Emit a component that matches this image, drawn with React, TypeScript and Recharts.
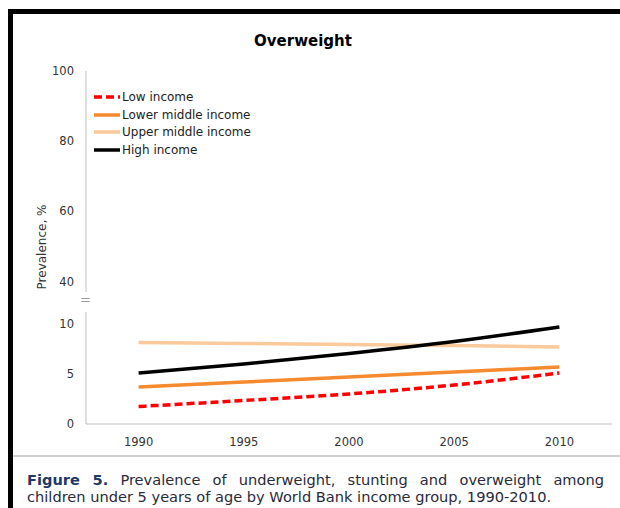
import React from 'react';
import { LineChart, Line, XAxis, YAxis, Legend } from 'recharts';

const years = ['1990', '1995', '2000', '2005', '2010'];
const lowIncome = [1.75, 2.35, 3.0, 3.9, 5.1];
const lowerMiddleIncome = [3.7, 4.2, 4.7, 5.2, 5.7];
const upperMiddleIncome = [8.15, 8.05, 7.95, 7.85, 7.7];
const highIncome = [5.1, 6.0, 7.05, 8.25, 9.7];

const topTicks = [40, 60, 80, 100];
const bottomTicks = [0, 5, 10];

const series = [
  { key: 'low', name: 'Low income', color: '#FF0000', dash: '8 4' },
  { key: 'lowerMiddle', name: 'Lower middle income', color: '#F58A2E', dash: undefined },
  { key: 'upperMiddle', name: 'Upper middle income', color: '#FAC99C', dash: undefined },
  { key: 'high', name: 'High income', color: '#000000', dash: undefined },
];

const data = years.map((year, i) => ({
  year,
  low: lowIncome[i],
  lowerMiddle: lowerMiddleIncome[i],
  upperMiddle: upperMiddleIncome[i],
  high: highIncome[i],
}));

const FONT = '"DejaVu Sans", sans-serif';
const axisColor = '#BFBFBF';
const tickStyle = { fill: '#333', fontSize: 11.5, fontFamily: FONT };

const renderLegend = (props: any) => {
  const items = [...(props.payload || [])].sort(
    (a: any, b: any) =>
      series.findIndex(s => s.key === a.dataKey) - series.findIndex(s => s.key === b.dataKey)
  );
  return (
    <div style={{ fontFamily: FONT, fontSize: 12, color: '#222' }}>
      {items.map((entry: any) => {
        const s = series.find(x => x.key === entry.dataKey);
        return (
          <div key={entry.dataKey} style={{ display: 'flex', alignItems: 'center', height: 17.7 }}>
            <svg width={28} height={6} style={{ marginRight: 1 }}>
              <line x1={1} y1={3} x2={27} y2={3} stroke={entry.color} strokeWidth={3.5} strokeDasharray={s?.dash} />
            </svg>
            <span>{entry.value}</span>
          </div>
        );
      })}
    </div>
  );
};

const lines = (withLegend: boolean) =>
  series.map(s => (
    <Line
      key={s.key}
      type="monotone"
      dataKey={s.key}
      name={s.name}
      stroke={s.color}
      strokeWidth={3.5}
      strokeDasharray={s.dash}
      dot={false}
      activeDot={false}
      isAnimationActive={false}
      legendType={withLegend ? 'line' : 'none'}
    />
  ));

const App: React.FC = () => {
  return (
    <div style={{ position: 'absolute', left: 0, top: 0, width: 620, height: 508, background: '#fff', overflow: 'hidden' }}>
      {/* frame */}
      <div style={{ position: 'absolute', left: 8, top: 9, width: 612, height: 499, borderLeft: '5px solid #000', borderTop: '5px solid #000' }} />
      <div style={{ position: 'absolute', left: 13, top: 455, width: 607, height: 2, background: '#D0D0D0' }} />

      <div style={{ position: 'absolute', left: 0, top: 32, width: 606, textAlign: 'center', fontFamily: FONT, fontWeight: 'bold', fontSize: 15, color: '#000' }}>
        Overweight
      </div>

      {/* upper panel 37-100 */}
      <div style={{ position: 'absolute', left: 0, top: 0 }}>
        <LineChart width={620} height={300} data={data} margin={{ top: 71, right: 8, bottom: 8, left: 46 }}>
          <XAxis dataKey="year" hide scale="band" />
          <YAxis
            domain={[37, 100]}
            ticks={topTicks}
            allowDataOverflow
            width={40}
            axisLine={{ stroke: axisColor }}
            tickLine={false}
            tickMargin={6}
            tick={tickStyle}
          />
          {lines(true)}
          <Legend
            layout="vertical"
            align="center"
            verticalAlign="middle"
            content={renderLegend}
            wrapperStyle={{ top: 88, left: 93, width: 220 }}
          />
        </LineChart>
      </div>

      {/* lower panel 0-11.2 */}
      <div style={{ position: 'absolute', left: 0, top: 300 }}>
        <LineChart width={620} height={160} data={data} margin={{ top: 12, right: 8, bottom: 6, left: 46 }}>
          <XAxis
            dataKey="year"
            scale="band"
            height={30}
            axisLine={{ stroke: axisColor }}
            tickLine={false}
            tickMargin={8}
            tick={tickStyle}
          />
          <YAxis
            domain={[0, 11.2]}
            ticks={bottomTicks}
            width={40}
            axisLine={{ stroke: axisColor }}
            tickLine={false}
            tickMargin={6}
            tick={tickStyle}
          />
          {lines(false)}
        </LineChart>
      </div>

      {/* axis break mark */}
      <div style={{ position: 'absolute', left: 80, top: 292, fontFamily: FONT, fontSize: 13, color: '#999' }}>=</div>

      <div
        style={{
          position: 'absolute',
          left: 42,
          top: 247,
          transform: 'translate(-50%, -50%) rotate(-90deg)',
          whiteSpace: 'nowrap',
          fontFamily: FONT,
          fontSize: 12,
          color: '#333',
        }}
      >
        Prevalence, %
      </div>

      {/* caption */}
      <div style={{ position: 'absolute', left: 27, top: 471, width: 577, fontFamily: FONT, fontSize: 14.6, lineHeight: '17px', color: '#2a2a3a' }}>
        <div style={{ textAlign: 'justify', textAlignLast: 'justify', whiteSpace: 'nowrap' }}>
          <span style={{ fontWeight: 'bold', color: '#1F3864' }}>Figure 5.</span> Prevalence of underweight, stunting and overweight among
        </div>
        <div style={{ whiteSpace: 'nowrap' }}>children under 5 years of age by World Bank income group, 1990-2010.</div>
      </div>
    </div>
  );
};

export default App;
